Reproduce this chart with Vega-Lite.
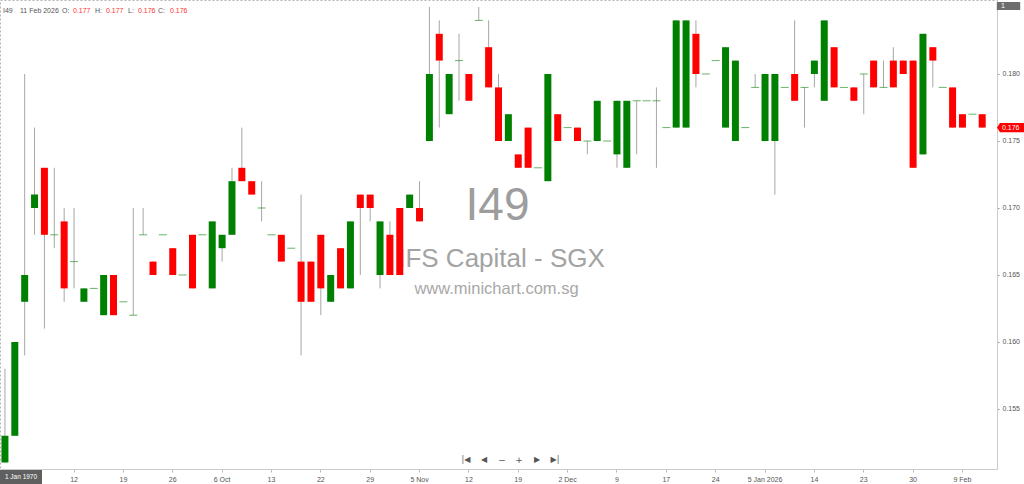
{
  "$schema": "https://vega.github.io/schema/vega-lite/v6.json",
  "width": 997,
  "height": 469,
  "padding": {"left": 0, "top": 0, "right": 27, "bottom": 15},
  "autosize": {"type": "none"},
  "background": "white",
  "config": {
    "font": "Liberation Sans",
    "view": {"stroke": "#b4b4b4", "strokeDash": [2, 2]}
  },
  "data": {
    "values": [
      {"d": "2025-09-01", "o": 0.151, "h": 0.158, "l": 0.151, "c": 0.153},
      {"d": "2025-09-02", "o": 0.153, "h": 0.160, "l": 0.153, "c": 0.160},
      {"d": "2025-09-03", "o": 0.163, "h": 0.180, "l": 0.159, "c": 0.165},
      {"d": "2025-09-04", "o": 0.170, "h": 0.176, "l": 0.168, "c": 0.171},
      {"d": "2025-09-05", "o": 0.173, "h": 0.173, "l": 0.161, "c": 0.168},
      {"d": "2025-09-09", "o": 0.168, "h": 0.173, "l": 0.167, "c": 0.168},
      {"d": "2025-09-11", "o": 0.169, "h": 0.170, "l": 0.163, "c": 0.164},
      {"d": "2025-09-12", "o": 0.166, "h": 0.170, "l": 0.164, "c": 0.166},
      {"d": "2025-09-15", "o": 0.163, "h": 0.164, "l": 0.163, "c": 0.164},
      {"d": "2025-09-16", "o": 0.164, "h": 0.164, "l": 0.164, "c": 0.164},
      {"d": "2025-09-17", "o": 0.162, "h": 0.165, "l": 0.162, "c": 0.165},
      {"d": "2025-09-18", "o": 0.165, "h": 0.165, "l": 0.162, "c": 0.162},
      {"d": "2025-09-19", "o": 0.163, "h": 0.163, "l": 0.163, "c": 0.163},
      {"d": "2025-09-22", "o": 0.162, "h": 0.170, "l": 0.162, "c": 0.162},
      {"d": "2025-09-23", "o": 0.168, "h": 0.170, "l": 0.168, "c": 0.168},
      {"d": "2025-09-24", "o": 0.166, "h": 0.166, "l": 0.165, "c": 0.165},
      {"d": "2025-09-25", "o": 0.168, "h": 0.168, "l": 0.168, "c": 0.168},
      {"d": "2025-09-26", "o": 0.167, "h": 0.167, "l": 0.165, "c": 0.165},
      {"d": "2025-09-29", "o": 0.165, "h": 0.165, "l": 0.165, "c": 0.165},
      {"d": "2025-09-30", "o": 0.168, "h": 0.168, "l": 0.164, "c": 0.164},
      {"d": "2025-10-02", "o": 0.168, "h": 0.168, "l": 0.168, "c": 0.168},
      {"d": "2025-10-03", "o": 0.164, "h": 0.169, "l": 0.164, "c": 0.169},
      {"d": "2025-10-06", "o": 0.167, "h": 0.168, "l": 0.166, "c": 0.168},
      {"d": "2025-10-07", "o": 0.168, "h": 0.173, "l": 0.168, "c": 0.172},
      {"d": "2025-10-08", "o": 0.173, "h": 0.176, "l": 0.172, "c": 0.172},
      {"d": "2025-10-09", "o": 0.172, "h": 0.172, "l": 0.171, "c": 0.171},
      {"d": "2025-10-10", "o": 0.170, "h": 0.172, "l": 0.169, "c": 0.170},
      {"d": "2025-10-13", "o": 0.168, "h": 0.168, "l": 0.168, "c": 0.168},
      {"d": "2025-10-14", "o": 0.168, "h": 0.168, "l": 0.166, "c": 0.166},
      {"d": "2025-10-15", "o": 0.167, "h": 0.167, "l": 0.167, "c": 0.167},
      {"d": "2025-10-17", "o": 0.166, "h": 0.171, "l": 0.159, "c": 0.163},
      {"d": "2025-10-21", "o": 0.166, "h": 0.166, "l": 0.163, "c": 0.163},
      {"d": "2025-10-22", "o": 0.168, "h": 0.168, "l": 0.162, "c": 0.164},
      {"d": "2025-10-23", "o": 0.163, "h": 0.165, "l": 0.163, "c": 0.165},
      {"d": "2025-10-24", "o": 0.167, "h": 0.167, "l": 0.164, "c": 0.164},
      {"d": "2025-10-27", "o": 0.164, "h": 0.169, "l": 0.164, "c": 0.169},
      {"d": "2025-10-28", "o": 0.171, "h": 0.171, "l": 0.165, "c": 0.170},
      {"d": "2025-10-29", "o": 0.171, "h": 0.171, "l": 0.169, "c": 0.170},
      {"d": "2025-10-30", "o": 0.165, "h": 0.169, "l": 0.164, "c": 0.169},
      {"d": "2025-10-31", "o": 0.168, "h": 0.169, "l": 0.165, "c": 0.165},
      {"d": "2025-11-03", "o": 0.170, "h": 0.170, "l": 0.165, "c": 0.165},
      {"d": "2025-11-04", "o": 0.170, "h": 0.171, "l": 0.170, "c": 0.171},
      {"d": "2025-11-05", "o": 0.170, "h": 0.172, "l": 0.169, "c": 0.169},
      {"d": "2025-11-06", "o": 0.175, "h": 0.185, "l": 0.175, "c": 0.180},
      {"d": "2025-11-07", "o": 0.183, "h": 0.184, "l": 0.176, "c": 0.181},
      {"d": "2025-11-10", "o": 0.177, "h": 0.180, "l": 0.177, "c": 0.180},
      {"d": "2025-11-11", "o": 0.181, "h": 0.183, "l": 0.178, "c": 0.181},
      {"d": "2025-11-12", "o": 0.180, "h": 0.180, "l": 0.178, "c": 0.178},
      {"d": "2025-11-13", "o": 0.184, "h": 0.185, "l": 0.184, "c": 0.184},
      {"d": "2025-11-14", "o": 0.182, "h": 0.184, "l": 0.179, "c": 0.179},
      {"d": "2025-11-17", "o": 0.179, "h": 0.180, "l": 0.175, "c": 0.175},
      {"d": "2025-11-18", "o": 0.175, "h": 0.177, "l": 0.175, "c": 0.177},
      {"d": "2025-11-19", "o": 0.174, "h": 0.174, "l": 0.173, "c": 0.173},
      {"d": "2025-11-20", "o": 0.176, "h": 0.176, "l": 0.173, "c": 0.173},
      {"d": "2025-11-24", "o": 0.173, "h": 0.173, "l": 0.173, "c": 0.173},
      {"d": "2025-11-26", "o": 0.172, "h": 0.180, "l": 0.172, "c": 0.180},
      {"d": "2025-11-28", "o": 0.177, "h": 0.177, "l": 0.175, "c": 0.175},
      {"d": "2025-12-02", "o": 0.176, "h": 0.176, "l": 0.176, "c": 0.176},
      {"d": "2025-12-03", "o": 0.176, "h": 0.176, "l": 0.175, "c": 0.175},
      {"d": "2025-12-04", "o": 0.175, "h": 0.175, "l": 0.174, "c": 0.175},
      {"d": "2025-12-05", "o": 0.175, "h": 0.178, "l": 0.175, "c": 0.178},
      {"d": "2025-12-08", "o": 0.175, "h": 0.175, "l": 0.175, "c": 0.175},
      {"d": "2025-12-09", "o": 0.174, "h": 0.178, "l": 0.173, "c": 0.178},
      {"d": "2025-12-10", "o": 0.173, "h": 0.178, "l": 0.173, "c": 0.178},
      {"d": "2025-12-11", "o": 0.178, "h": 0.178, "l": 0.174, "c": 0.178},
      {"d": "2025-12-12", "o": 0.178, "h": 0.178, "l": 0.178, "c": 0.178},
      {"d": "2025-12-16", "o": 0.178, "h": 0.179, "l": 0.173, "c": 0.178},
      {"d": "2025-12-17", "o": 0.176, "h": 0.176, "l": 0.176, "c": 0.176},
      {"d": "2025-12-18", "o": 0.176, "h": 0.184, "l": 0.176, "c": 0.184},
      {"d": "2025-12-19", "o": 0.176, "h": 0.184, "l": 0.176, "c": 0.184},
      {"d": "2025-12-22", "o": 0.183, "h": 0.184, "l": 0.179, "c": 0.180},
      {"d": "2025-12-23", "o": 0.180, "h": 0.180, "l": 0.180, "c": 0.180},
      {"d": "2025-12-24", "o": 0.181, "h": 0.181, "l": 0.181, "c": 0.181},
      {"d": "2025-12-26", "o": 0.176, "h": 0.182, "l": 0.176, "c": 0.182},
      {"d": "2025-12-29", "o": 0.175, "h": 0.181, "l": 0.175, "c": 0.181},
      {"d": "2025-12-30", "o": 0.176, "h": 0.176, "l": 0.176, "c": 0.176},
      {"d": "2026-01-02", "o": 0.179, "h": 0.180, "l": 0.179, "c": 0.179},
      {"d": "2026-01-05", "o": 0.175, "h": 0.180, "l": 0.175, "c": 0.180},
      {"d": "2026-01-06", "o": 0.175, "h": 0.180, "l": 0.171, "c": 0.180},
      {"d": "2026-01-07", "o": 0.179, "h": 0.179, "l": 0.179, "c": 0.179},
      {"d": "2026-01-09", "o": 0.180, "h": 0.184, "l": 0.178, "c": 0.178},
      {"d": "2026-01-12", "o": 0.179, "h": 0.179, "l": 0.176, "c": 0.179},
      {"d": "2026-01-14", "o": 0.180, "h": 0.181, "l": 0.179, "c": 0.181},
      {"d": "2026-01-15", "o": 0.178, "h": 0.184, "l": 0.178, "c": 0.184},
      {"d": "2026-01-16", "o": 0.182, "h": 0.182, "l": 0.179, "c": 0.179},
      {"d": "2026-01-20", "o": 0.179, "h": 0.179, "l": 0.179, "c": 0.179},
      {"d": "2026-01-22", "o": 0.179, "h": 0.179, "l": 0.178, "c": 0.178},
      {"d": "2026-01-23", "o": 0.180, "h": 0.180, "l": 0.177, "c": 0.180},
      {"d": "2026-01-26", "o": 0.181, "h": 0.181, "l": 0.179, "c": 0.179},
      {"d": "2026-01-27", "o": 0.179, "h": 0.181, "l": 0.179, "c": 0.179},
      {"d": "2026-01-28", "o": 0.181, "h": 0.182, "l": 0.179, "c": 0.179},
      {"d": "2026-01-29", "o": 0.181, "h": 0.181, "l": 0.180, "c": 0.180},
      {"d": "2026-01-30", "o": 0.181, "h": 0.181, "l": 0.173, "c": 0.173},
      {"d": "2026-02-02", "o": 0.174, "h": 0.183, "l": 0.174, "c": 0.183},
      {"d": "2026-02-03", "o": 0.182, "h": 0.182, "l": 0.179, "c": 0.181},
      {"d": "2026-02-05", "o": 0.179, "h": 0.179, "l": 0.179, "c": 0.179},
      {"d": "2026-02-06", "o": 0.179, "h": 0.179, "l": 0.176, "c": 0.176},
      {"d": "2026-02-09", "o": 0.177, "h": 0.177, "l": 0.176, "c": 0.176},
      {"d": "2026-02-10", "o": 0.177, "h": 0.177, "l": 0.177, "c": 0.177},
      {"d": "2026-02-11", "o": 0.177, "h": 0.177, "l": 0.176, "c": 0.176}
    ]
  },
  "layer": [
    {
      "data": {"values": [{}]},
      "mark": {"type": "text", "x": {"expr": "width / 2"}, "dx": -1, "align": "center", "baseline": "alphabetic", "fontSize": 46, "fill": "#9d9d9d"},
      "encoding": {"y": {"datum": 0.1691, "type": "quantitative", "title": null}, "text": {"value": "I49"}}
    },
    {
      "data": {"values": [{}]},
      "mark": {"type": "text", "x": {"expr": "width / 2"}, "dx": 3, "align": "center", "baseline": "alphabetic", "fontSize": 26, "fill": "#a3a3a3"},
      "encoding": {"y": {"datum": 0.1656, "type": "quantitative", "title": null}, "text": {"value": "IFS Capital - SGX"}}
    },
    {
      "data": {"values": [{}]},
      "mark": {"type": "text", "x": {"expr": "width / 2"}, "dx": -2, "align": "center", "baseline": "alphabetic", "fontSize": 16.5, "fill": "#a8a8a8"},
      "encoding": {"y": {"datum": 0.16358, "type": "quantitative", "title": null}, "text": {"value": "www.minichart.com.sg"}}
    },
    {
      "mark": {"type": "rule", "color": "#a6a6a6", "strokeWidth": 1},
      "encoding": {
        "x": {
          "field": "d",
          "type": "ordinal",
          "bandPosition": 0.5,
          "scale": {"type": "band", "paddingInner": 0, "paddingOuter": 0.5, "align": 0},
          "axis": {
            "title": null,
            "labelAngle": 0,
            "values": ["2025-09-12", "2025-09-19", "2025-09-26", "2025-10-06", "2025-10-13", "2025-10-22", "2025-10-29", "2025-11-05", "2025-11-12", "2025-11-19", "2025-12-02", "2025-12-09", "2025-12-17", "2025-12-24", "2026-01-05", "2026-01-14", "2026-01-23", "2026-01-30", "2026-02-09"],
            "labelExpr": "indexof(['2025-10-06', '2025-11-05', '2025-12-02', '2026-02-09'], datum.value) >= 0 ? utcFormat(toDate(datum.value), '%-d %b') : datum.value == '2026-01-05' ? utcFormat(toDate(datum.value), '%-d %b %Y') : utcFormat(toDate(datum.value), '%-d')",
            "labelFontSize": 7,
            "labelColor": "#555555",
            "labelPadding": 3,
            "tickSize": 3,
            "tickColor": "#bbbbbb",
            "domainColor": "#cccccc",
            "grid": false
          }
        },
        "y": {
          "field": "l",
          "type": "quantitative",
          "title": null,
          "scale": {"domain": [0.150522, 0.185522], "nice": false, "zero": false},
          "axis": {
            "orient": "right",
            "title": null,
            "values": [0.155, 0.16, 0.165, 0.17, 0.175, 0.18],
            "format": ".3f",
            "labelFontSize": 7,
            "labelColor": "#555555",
            "labelPadding": 3,
            "tickSize": 2,
            "tickColor": "#999999",
            "domainColor": "#cccccc",
            "grid": false
          }
        },
        "y2": {"field": "h"}
      }
    },
    {
      "transform": [{"filter": "datum.o != datum.c"}],
      "mark": {"type": "bar", "width": 7},
      "encoding": {
        "x": {"field": "d", "type": "ordinal"},
        "y": {"field": "o", "type": "quantitative", "title": null},
        "y2": {"field": "c"},
        "color": {"condition": {"test": "datum.c < datum.o", "value": "#ff0000"}, "value": "#008000"}
      }
    },
    {
      "transform": [{"filter": "datum.o == datum.c"}],
      "mark": {"type": "tick", "orient": "horizontal", "size": 8, "thickness": 1, "color": "#008000", "opacity": 0.6},
      "encoding": {
        "x": {"field": "d", "type": "ordinal", "bandPosition": 0.5},
        "y": {"field": "o", "type": "quantitative", "title": null}
      }
    },
    {
      "data": {"values": [{}]},
      "mark": {"type": "text", "align": "left", "baseline": "middle", "fontSize": 7, "fill": "#555555", "dx": 3},
      "encoding": {"x": {"datum": "2025-09-01", "type": "ordinal", "bandPosition": 0}, "y": {"datum": 0.1847, "type": "quantitative", "title": null}, "text": {"value": "I49"}}
    },
    {
      "data": {"values": [{}]},
      "mark": {"type": "text", "align": "left", "baseline": "middle", "fontSize": 7, "fill": "#555555", "dx": 20},
      "encoding": {"x": {"datum": "2025-09-01", "type": "ordinal", "bandPosition": 0}, "y": {"datum": 0.1847, "type": "quantitative", "title": null}, "text": {"value": "11 Feb 2026"}}
    },
    {
      "data": {"values": [{}]},
      "mark": {"type": "text", "align": "left", "baseline": "middle", "fontSize": 7, "fill": "#555555", "dx": 62},
      "encoding": {"x": {"datum": "2025-09-01", "type": "ordinal", "bandPosition": 0}, "y": {"datum": 0.1847, "type": "quantitative", "title": null}, "text": {"value": "O:"}}
    },
    {
      "data": {"values": [{}]},
      "mark": {"type": "text", "align": "left", "baseline": "middle", "fontSize": 7, "fill": "#ff3333", "dx": 73},
      "encoding": {"x": {"datum": "2025-09-01", "type": "ordinal", "bandPosition": 0}, "y": {"datum": 0.1847, "type": "quantitative", "title": null}, "text": {"value": "0.177"}}
    },
    {
      "data": {"values": [{}]},
      "mark": {"type": "text", "align": "left", "baseline": "middle", "fontSize": 7, "fill": "#555555", "dx": 95},
      "encoding": {"x": {"datum": "2025-09-01", "type": "ordinal", "bandPosition": 0}, "y": {"datum": 0.1847, "type": "quantitative", "title": null}, "text": {"value": "H:"}}
    },
    {
      "data": {"values": [{}]},
      "mark": {"type": "text", "align": "left", "baseline": "middle", "fontSize": 7, "fill": "#ff3333", "dx": 106},
      "encoding": {"x": {"datum": "2025-09-01", "type": "ordinal", "bandPosition": 0}, "y": {"datum": 0.1847, "type": "quantitative", "title": null}, "text": {"value": "0.177"}}
    },
    {
      "data": {"values": [{}]},
      "mark": {"type": "text", "align": "left", "baseline": "middle", "fontSize": 7, "fill": "#555555", "dx": 128},
      "encoding": {"x": {"datum": "2025-09-01", "type": "ordinal", "bandPosition": 0}, "y": {"datum": 0.1847, "type": "quantitative", "title": null}, "text": {"value": "L:"}}
    },
    {
      "data": {"values": [{}]},
      "mark": {"type": "text", "align": "left", "baseline": "middle", "fontSize": 7, "fill": "#ff3333", "dx": 138},
      "encoding": {"x": {"datum": "2025-09-01", "type": "ordinal", "bandPosition": 0}, "y": {"datum": 0.1847, "type": "quantitative", "title": null}, "text": {"value": "0.176"}}
    },
    {
      "data": {"values": [{}]},
      "mark": {"type": "text", "align": "left", "baseline": "middle", "fontSize": 7, "fill": "#555555", "dx": 158},
      "encoding": {"x": {"datum": "2025-09-01", "type": "ordinal", "bandPosition": 0}, "y": {"datum": 0.1847, "type": "quantitative", "title": null}, "text": {"value": "C:"}}
    },
    {
      "data": {"values": [{}]},
      "mark": {"type": "text", "align": "left", "baseline": "middle", "fontSize": 7, "fill": "#ff3333", "dx": 170},
      "encoding": {"x": {"datum": "2025-09-01", "type": "ordinal", "bandPosition": 0}, "y": {"datum": 0.1847, "type": "quantitative", "title": null}, "text": {"value": "0.176"}}
    },
    {
      "data": {"values": [{}]},
      "mark": {"type": "point", "x": {"expr": "width + 13.5"}, "filled": true, "fill": "#ff0000", "opacity": 1, "size": 729, "shape": "M-1,0 L-0.78,-0.34 L1,-0.34 L1,0.34 L-0.78,0.34 Z"},
      "encoding": {"y": {"datum": 0.176, "type": "quantitative", "title": null}}
    },
    {
      "data": {"values": [{}]},
      "mark": {"type": "text", "x": {"expr": "width + 5"}, "align": "left", "baseline": "middle", "fontSize": 7, "fill": "#ffffff"},
      "encoding": {"y": {"datum": 0.176, "type": "quantitative", "title": null}, "text": {"value": "0.176"}}
    },
    {
      "data": {"values": [{}]},
      "mark": {"type": "point", "x": {"expr": "width + 11.5"}, "filled": true, "fill": "#6e6e6e", "opacity": 1, "size": 548, "shape": "M-1,-0.34 L1,-0.34 L1,0.34 L-1,0.34 Z"},
      "encoding": {"y": {"datum": 0.185074, "type": "quantitative", "title": null}}
    },
    {
      "data": {"values": [{}]},
      "mark": {"type": "text", "x": {"expr": "width + 4"}, "align": "left", "baseline": "middle", "fontSize": 7, "fill": "#ffffff"},
      "encoding": {"y": {"datum": 0.185074, "type": "quantitative", "title": null}, "text": {"value": "1"}}
    },
    {
      "data": {"values": [{}]},
      "mark": {"type": "point", "x": 21, "y": {"expr": "height + 8"}, "filled": true, "fill": "#5f5f5f", "opacity": 1, "size": 1764, "shape": "M-1,-0.333 L1,-0.333 L1,0.333 L-1,0.333 Z"}
    },
    {
      "data": {"values": [{}]},
      "mark": {"type": "text", "x": 21, "y": {"expr": "height + 8"}, "align": "center", "baseline": "middle", "fontSize": 6.5, "fill": "#ffffff", "text": "1 Jan 1970"}
    },
    {
      "data": {"values": [{}]},
      "mark": {"type": "text", "x": {"expr": "width / 2 - 32.5"}, "align": "center", "baseline": "middle", "fontSize": 8, "fill": "#555555", "font": "DejaVu Sans"},
      "encoding": {"y": {"datum": 0.15119, "type": "quantitative", "title": null}, "text": {"value": "|◀"}}
    },
    {
      "data": {"values": [{}]},
      "mark": {"type": "text", "x": {"expr": "width / 2 - 14.5"}, "align": "center", "baseline": "middle", "fontSize": 8, "fill": "#555555", "font": "DejaVu Sans"},
      "encoding": {"y": {"datum": 0.15119, "type": "quantitative", "title": null}, "text": {"value": "◀"}}
    },
    {
      "data": {"values": [{}]},
      "mark": {"type": "text", "x": {"expr": "width / 2 + 3.5"}, "align": "center", "baseline": "middle", "fontSize": 9, "fill": "#555555", "font": "DejaVu Sans"},
      "encoding": {"y": {"datum": 0.15119, "type": "quantitative", "title": null}, "text": {"value": "−"}}
    },
    {
      "data": {"values": [{}]},
      "mark": {"type": "text", "x": {"expr": "width / 2 + 20.5"}, "align": "center", "baseline": "middle", "fontSize": 9, "fill": "#555555", "font": "DejaVu Sans"},
      "encoding": {"y": {"datum": 0.15119, "type": "quantitative", "title": null}, "text": {"value": "+"}}
    },
    {
      "data": {"values": [{}]},
      "mark": {"type": "text", "x": {"expr": "width / 2 + 38.5"}, "align": "center", "baseline": "middle", "fontSize": 8, "fill": "#555555", "font": "DejaVu Sans"},
      "encoding": {"y": {"datum": 0.15119, "type": "quantitative", "title": null}, "text": {"value": "▶"}}
    },
    {
      "data": {"values": [{}]},
      "mark": {"type": "text", "x": {"expr": "width / 2 + 56.5"}, "align": "center", "baseline": "middle", "fontSize": 8, "fill": "#555555", "font": "DejaVu Sans"},
      "encoding": {"y": {"datum": 0.15119, "type": "quantitative", "title": null}, "text": {"value": "▶|"}}
    }
  ]
}
